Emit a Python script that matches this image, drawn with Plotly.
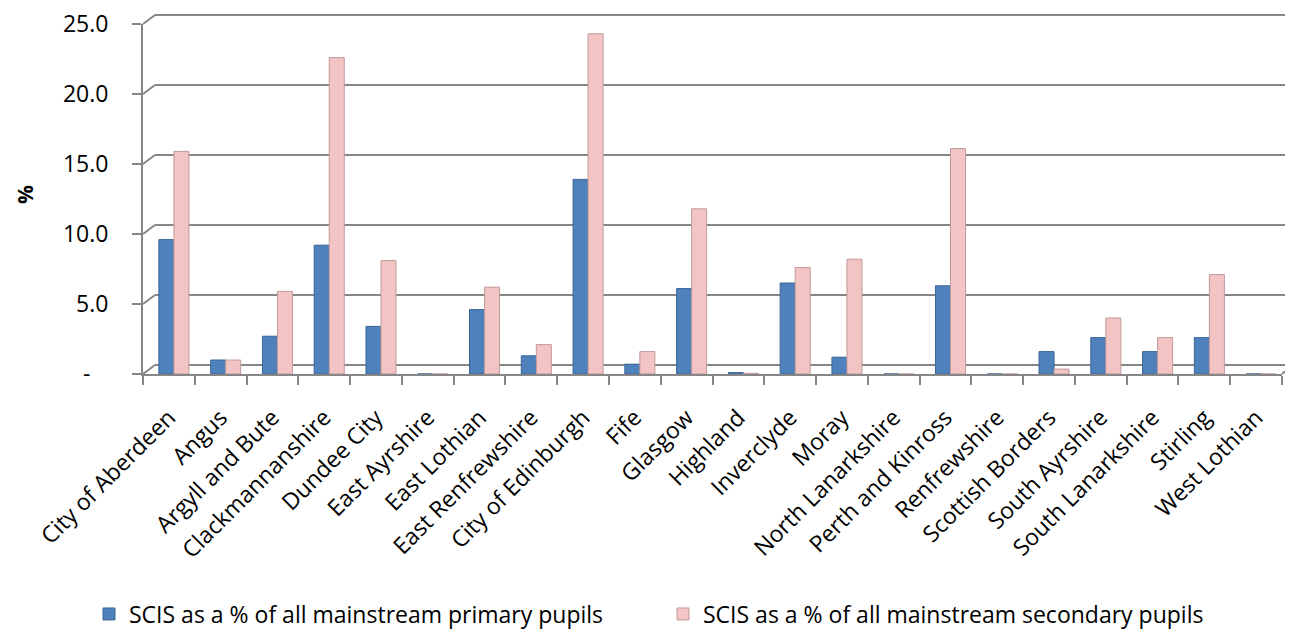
import plotly.graph_objects as go

categories = ["City of Aberdeen", "Angus", "Argyll and Bute", "Clackmannanshire", "Dundee City",
              "East Ayrshire", "East Lothian", "East Renfrewshire", "City of Edinburgh", "Fife",
              "Glasgow", "Highland", "Inverclyde", "Moray", "North Lanarkshire", "Perth and Kinross",
              "Renfrewshire", "Scottish Borders", "South Ayrshire", "South Lanarkshire", "Stirling",
              "West Lothian"]
primary = [9.6, 1.0, 2.7, 9.2, 3.4, 0.0, 4.6, 1.3, 13.9, 0.7, 6.1, 0.1, 6.5, 1.2, 0.0, 6.3,
           0.0, 1.6, 2.6, 1.6, 2.6, 0.0]
secondary = [15.9, 1.0, 5.9, 22.6, 8.1, 0.0, 6.2, 2.1, 24.3, 1.6, 11.8, 0.05, 7.6, 8.2, 0.0, 16.1,
             0.0, 0.35, 4.0, 2.6, 7.1, 0.0]
series_names = ["SCIS as a % of all mainstream primary pupils",
                "SCIS as a % of all mainstream secondary pupils"]
tick_vals = [0, 5, 10, 15, 20, 25]
tick_text = ["-\u00a0\u00a0\u00a0", "5.0", "10.0", "15.0", "20.0", "25.0"]
y_range = [0, 25]

FONT = "Open Sans, sans-serif"
GRID = "#868686"
FIG_W, FIG_H = 1285, 629   # page body adds an 8px offset
M_L, M_R, M_T, M_B = 135, 11, 16, 263
W_PLOT = FIG_W - M_L - M_R
H_PLOT = FIG_H - M_T - M_B
BAR_W = 0.29
GROUP_SHIFT = 0.097

fig = go.Figure()
fig.add_trace(go.Bar(x=categories, y=primary, name=series_names[0], legend="legend",
                     width=BAR_W, offset=GROUP_SHIFT - BAR_W,
                     marker=dict(color="#4F81BD", line=dict(color="#3A6496", width=1))))
fig.add_trace(go.Bar(x=categories, y=secondary, name=series_names[1], legend="legend2",
                     width=BAR_W, offset=GROUP_SHIFT,
                     marker=dict(color="#F2C4C4", line=dict(color="#C09A99", width=1))))

dx = 12 / W_PLOT
shapes = []
# back-wall gridlines (3D offset) with diagonal connectors
for v in tick_vals:
    frac = (v - y_range[0]) / (y_range[1] - y_range[0])
    shapes.append(dict(type="line", xref="paper", yref="paper", ysizemode="pixel", yanchor=frac,
                       x0=dx, x1=1 + M_R / W_PLOT, y0=9, y1=9,
                       line=dict(color=GRID, width=2), layer="below"))
    shapes.append(dict(type="line", xref="paper", yref="paper", ysizemode="pixel", yanchor=frac,
                       x0=0, x1=dx, y0=0, y1=9,
                       line=dict(color=GRID, width=2), layer="below"))
# floor right-edge diagonal
shapes.append(dict(type="line", xref="paper", yref="paper", ysizemode="pixel", yanchor=0,
                   x0=1, x1=1 + M_R / W_PLOT, y0=0, y1=9,
                   line=dict(color=GRID, width=2), layer="below"))

legend_common = dict(orientation="h", xref="container", yref="container", xanchor="left",
                     y=1 - 606 / FIG_H, yanchor="middle", font=dict(size=23), itemwidth=30,
                     bgcolor="rgba(0,0,0,0)")

fig.update_layout(
    width=FIG_W, height=FIG_H,
    margin=dict(l=M_L, r=M_R, t=M_T, b=M_B),
    paper_bgcolor="white", plot_bgcolor="white",
    font=dict(family=FONT, size=23, color="black"),
    barmode="overlay",
    shapes=shapes,
    showlegend=True,
    legend=dict(x=81 / FIG_W, **legend_common),
    legend2=dict(x=655 / FIG_W, **legend_common),
    xaxis=dict(showline=True, linecolor=GRID, linewidth=2, ticks="outside", ticklen=9,
               tickcolor=GRID, tickwidth=2, tickson="boundaries", tickangle=-45,
               tickfont=dict(size=23), showgrid=False, automargin=False,
               ticklabelstandoff=19),
    yaxis=dict(range=y_range, tickvals=tick_vals, ticktext=tick_text, showgrid=False,
               showline=True, linecolor=GRID, linewidth=2, ticks="outside", ticklen=9,
               tickcolor=GRID, tickwidth=2, ticklabelstandoff=19, zeroline=False,
               tickfont=dict(size=23), automargin=False, ticklabeloverflow="allow"),
    annotations=[dict(text="<b>%</b>", xref="paper", yref="paper",
                      x=(1 - M_L) / W_PLOT, y=(FIG_H - M_B - 187) / H_PLOT, textangle=-90,
                      showarrow=False, xanchor="left", yanchor="middle",
                      font=dict(size=21))],
)

fig.write_html("out.html")
